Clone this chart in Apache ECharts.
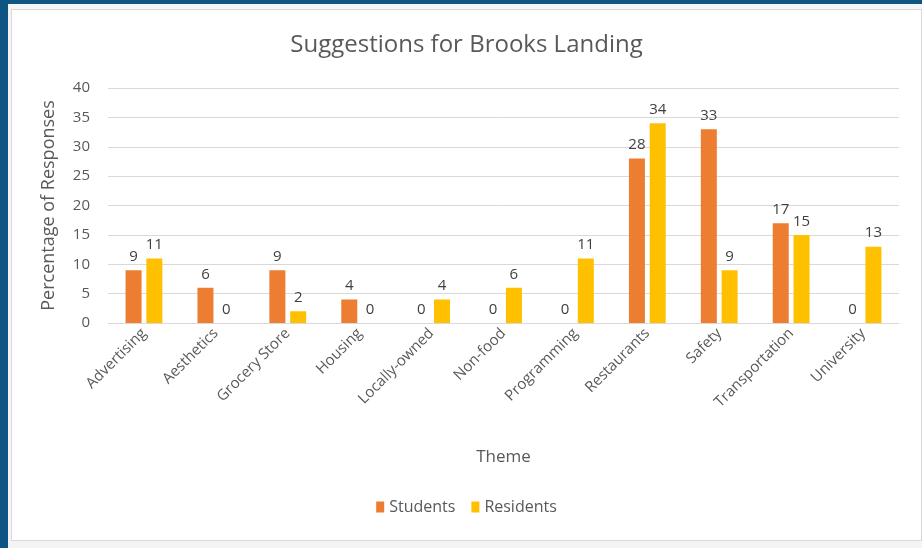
<!DOCTYPE html>
<html>
<head>
<meta charset="utf-8">
<script src="https://cdn.jsdelivr.net/npm/echarts@6/dist/echarts.min.js"></script>
<style>
	html, body { margin: 0; padding: 0; }
	body { width: 922px; height: 548px; background: #0e5584; position: relative; overflow: hidden; }
	#frame { position: absolute; left: 8px; top: 4px; width: 914px; height: 544px; background: #f4f4f4; }
	#chart { position: absolute; left: 11px; top: 9px; width: 911px; height: 532px; background: #fff; border: 1px solid #d9d9d9; box-sizing: border-box; }
</style>
</head>
<body>
<div id="frame"></div>
<div id="chart"></div>
<script>
	// 主题分类
	var themes = ['Advertising', 'Aesthetics', 'Grocery Store', 'Housing', 'Locally-owned', 'Non-food',
		'Programming', 'Restaurants', 'Safety', 'Transportation', 'University'];
	var students = [9, 6, 9, 4, 0, 0, 0, 28, 33, 17, 0];
	var residents = [11, 0, 2, 0, 4, 6, 11, 34, 9, 15, 13];
	var yTicks = [0, 5, 10, 15, 20, 25, 30, 35, 40];

	var font = '"Open Sans", "Noto Sans", sans-serif';
	var chart = echarts.init(document.getElementById('chart'));

	var labelStyle = {
		show: true,
		position: 'top',
		distance: 6,
		color: '#404040',
		fontSize: 15,
		fontFamily: font
	};

	var option = {
		animation: false,
		title: {
			text: 'Suggestions for Brooks Landing',
			left: 'center',
			top: 18,
			textStyle: {
				color: '#595959',
				fontSize: 24,
				fontWeight: 'normal',
				fontFamily: font
			}
		},
		legend: {
			bottom: 20,
			left: 'center',
			itemWidth: 8,
			itemHeight: 11,
			itemGap: 16,
			icon: 'rect',
			textStyle: { color: '#595959', fontSize: 16, fontFamily: font },
			data: ['Students', 'Residents']
		},
		grid: {
			left: 96,
			right: 22,
			top: 78,
			bottom: 217
		},
		xAxis: {
			type: 'category',
			data: themes,
			name: 'Theme',
			nameLocation: 'middle',
			nameGap: 126,
			nameTextStyle: { color: '#595959', fontSize: 17, fontFamily: font },
			axisTick: { show: false },
			axisLine: { lineStyle: { color: '#d9d9d9' } },
			axisLabel: {
				rotate: 45,
				interval: 0,
				margin: 8,
				color: '#595959',
				fontSize: 15,
				fontFamily: font
			}
		},
		yAxis: {
			type: 'value',
			min: yTicks[0],
			max: yTicks[yTicks.length - 1],
			interval: 5,
			name: 'Percentage of Responses',
			nameLocation: 'middle',
			nameGap: 50,
			nameTextStyle: { color: '#595959', fontSize: 18, fontFamily: font },
			axisLine: { show: false },
			axisTick: { show: false },
			axisLabel: { margin: 18, color: '#595959', fontSize: 15, fontFamily: font },
			splitLine: { lineStyle: { color: '#d9d9d9' } }
		},
		series: [
			{
				name: 'Students',
				type: 'bar',
				barWidth: 16,
				barGap: '30%',
				itemStyle: { color: '#ed7d31' },
				label: labelStyle,
				data: students
			},
			{
				name: 'Residents',
				type: 'bar',
				barWidth: 16,
				barGap: '30%',
				itemStyle: { color: '#ffc000' },
				label: labelStyle,
				data: residents
			}
		]
	};

	chart.setOption(option);
</script>
</body>
</html>
